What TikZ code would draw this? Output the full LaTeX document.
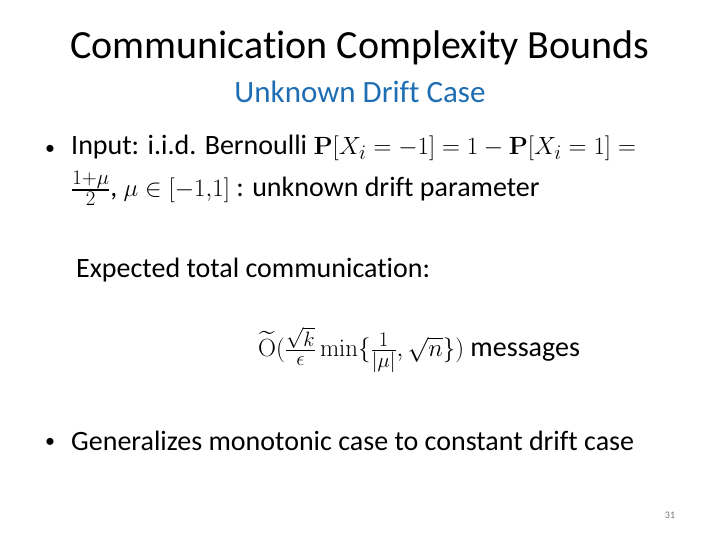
\documentclass[tikz,border=0pt]{standalone}
\usepackage{amsmath,amssymb}
\usepackage[no-math]{fontspec}
\setmainfont{Carlito}[Ligatures=NoCommon]
\definecolor{subblue}{RGB}{31,110,180}
\definecolor{pnum}{RGB}{120,120,120}
\begin{document}
\begin{tikzpicture}[x=1pt,y=-1pt,
  txt/.style={anchor=west,inner sep=0pt,font=\fontsize{28}{32}\selectfont}]
\useasboundingbox[fill=white] (0,0) rectangle (720,540);
\node[inner sep=0pt,font=\fontsize{40}{46}\selectfont] (title) at (360,48) {Communication Complexity Bounds};
\node[inner sep=0pt,font=\fontsize{31}{36}\selectfont,text=subblue] (sub) at (360,92) {Unknown Drift Case};
\node[anchor=west,inner sep=0pt,font=\fontsize{20}{24}\selectfont] (b1) at (45,150) {•};
\node[txt] (l1) at (71,148) {Input: i.i.d. Bernoulli $\mathbf{P}[X_i=-1]=1-\mathbf{P}[X_i=1]=$};
\node[txt] (l2) at (71,188) {$\frac{1+\mu}{2}$, $\mu\in[-1{,}1]$ : unknown drift parameter};
\node[txt] (l3) at (76,270) {Expected total communication:};
\node[txt] (l4) at (258,350) {$\widetilde{\mathrm{O}}(\frac{\sqrt{k}}{\epsilon}\,\mathrm{min}\{\frac{1}{|\mu|},\sqrt{n}\})$ messages};
\node[anchor=west,inner sep=0pt,font=\fontsize{20}{24}\selectfont] (b2) at (45,443) {•};
\node[txt] (l5) at (71,441) {Generalizes monotonic case to constant drift case};
\node[inner sep=0pt,font=\fontsize{10}{12}\selectfont,text=pnum] (pn) at (670,515) {31};
\end{tikzpicture}
\end{document}
